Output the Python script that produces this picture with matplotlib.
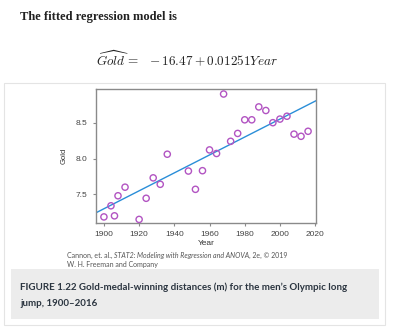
import matplotlib.pyplot as plt
import matplotlib.patches as patches

plt.rcParams['mathtext.fontset'] = 'cm'

# data: men's olympic long jump gold (m)
years = [1900, 1904, 1906, 1908, 1912, 1920, 1924, 1928, 1932, 1936, 1948, 1952, 1956,
         1960, 1964, 1968, 1972, 1976, 1980, 1984, 1988, 1992, 1996, 2000, 2004, 2008,
         2012, 2016]
gold = [7.185, 7.34, 7.20, 7.48, 7.60, 7.15, 7.445, 7.73, 7.64, 8.06, 7.825, 7.57, 7.83,
        8.12, 8.07, 8.90, 8.24, 8.35, 8.54, 8.54, 8.72, 8.67, 8.50, 8.55, 8.59, 8.34,
        8.31, 8.38]
intercept = -16.47
slope = 0.01251
xticks = [1900, 1920, 1940, 1960, 1980, 2000, 2020]
yticks = [7.5, 8.0, 8.5]

W, H = 400, 328
fig = plt.figure(figsize=(4, 3.28), dpi=100)
fig.patch.set_facecolor('white')

def fx(px):
    return px / W

def fy(py):
    return 1 - py / H

# page text
fig.text(fx(20), fy(17), "The fitted regression model is", family='Liberation Serif',
         fontsize=9, weight='bold', color='#222222', va='center', ha='left')
fig.text(fx(187), fy(59), r"$\widehat{Gold}\,=\;\;-16.47+0.01251Year$",
         fontsize=9.5, color='#222222', va='center', ha='center')

# outer frame and caption box
fig.add_artist(patches.Rectangle((fx(4), fy(325)), fx(381), (325 - 83) / H,
                                 transform=fig.transFigure, fill=False,
                                 edgecolor='#e4e4e4', lw=0.8))
fig.add_artist(patches.Rectangle((fx(11), fy(319)), fx(368), (319 - 269) / H,
                                 transform=fig.transFigure, facecolor='#ececec',
                                 edgecolor='none'))
fig.text(fx(20), fy(287), "FIGURE 1.22 Gold-medal-winning distances (m) for the men\u2019s Olympic long",
         family='Lato', weight='bold', fontsize=7.0, color='#2b3540', va='center')
fig.text(fx(20), fy(303), "jump, 1900\u20132016",
         family='Lato', weight='bold', fontsize=7.0, color='#2b3540', va='center')

# scatter plot
ax = fig.add_axes([fx(96), fy(223), fx(220), (223 - 89) / H])
ax.scatter(years, gold, s=20, facecolors='none', edgecolors='#b254c2', linewidths=1.0, zorder=3)
xs = [1895.5, 2020.5]
ax.plot(xs, [intercept + slope * x for x in xs], color='#2a8ed8', lw=1.0, zorder=2)
ax.set_xlim(1895.5, 2020.5)
ax.set_ylim(7.10, 8.97)
ax.set_xticks(xticks)
ax.set_yticks(yticks)
ax.set_yticklabels(["7.5", "8.0", "8.5"])
for s in ax.spines.values():
    s.set_color('#8a8a8a')
    s.set_linewidth(1.0)
ax.tick_params(labelsize=6, colors='#8a8a8a', labelcolor='#444444', length=2.5, width=0.8)
for lab in ax.get_xticklabels() + ax.get_yticklabels():
    lab.set_family('Liberation Sans')
ax.set_xlabel("Year", family='Liberation Sans', fontsize=6, color='#333333', labelpad=1)
ax.set_ylabel("Gold", family='Liberation Sans', fontsize=5.5, color='#333333', labelpad=6)

# credit line
c1 = fig.text(fx(67), fy(255), "Cannon, et. al., ", family='Lato', fontsize=5,
              color='#555555', va='center')
c2 = ax.annotate("STAT2: Modeling with Regression and ANOVA", xy=(1, 0), xycoords=c1,
                 va='bottom', family='Lato', style='italic', fontsize=5, color='#555555',
                 annotation_clip=False)
ax.annotate(", 2e, \u00a9 2019", xy=(1, 0), xycoords=c2, va='bottom', family='Lato',
            fontsize=5, color='#555555', annotation_clip=False)
fig.text(fx(67), fy(264), "W. H. Freeman and Company", family='Lato', fontsize=5,
         color='#555555', va='center')

fig.savefig("out.png", dpi=100)
